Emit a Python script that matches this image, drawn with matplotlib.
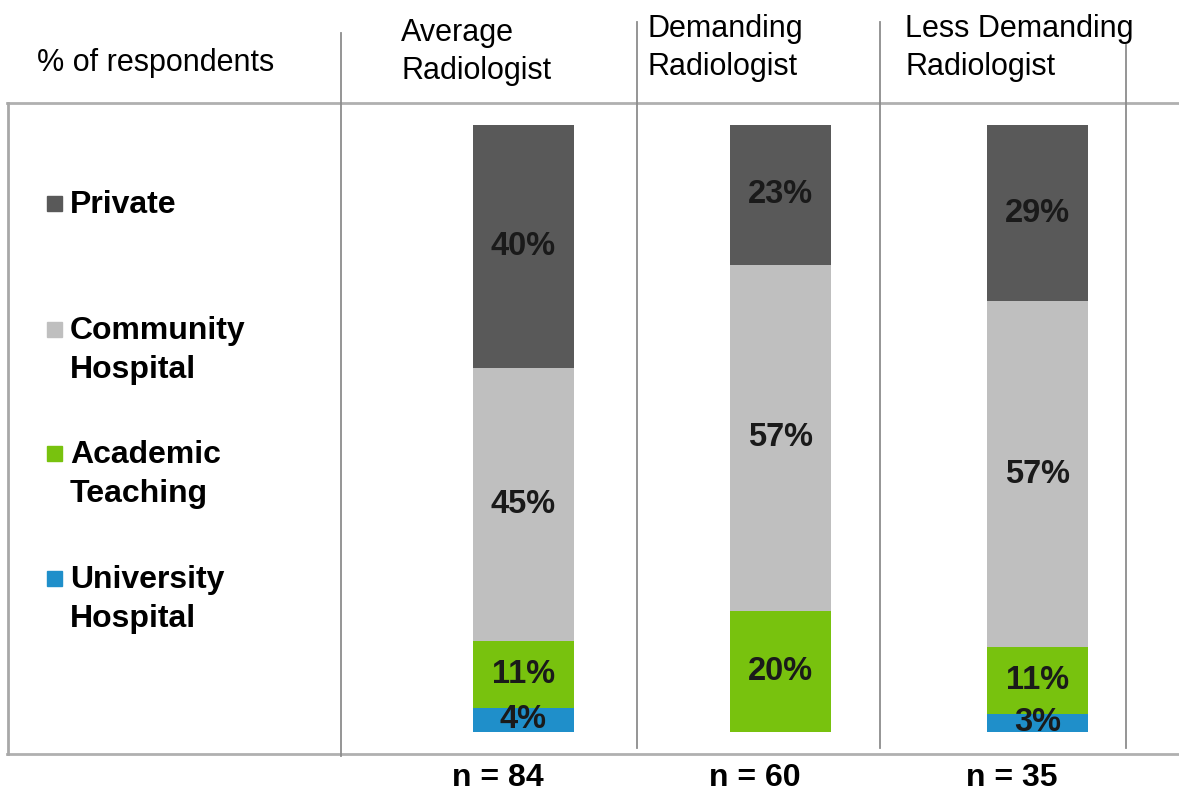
import matplotlib.pyplot as plt
from matplotlib.lines import Line2D
from matplotlib.patches import Rectangle

# data
groups = ['Average\nRadiologist', 'Demanding\nRadiologist', 'Less Demanding\nRadiologist']
n_resp = [84, 60, 35]
segments = ['University\nHospital', 'Academic\nTeaching', 'Community\nHospital', 'Private']
university = [4, 0, 3]
academic = [11, 20, 11]
community = [45, 57, 57]
private = [40, 23, 29]
colors = ['#1f8fca', '#78c20e', '#bfbfbf', '#595959']

W, H = 1179, 794
plt.rcParams['font.family'] = ['Liberation Sans', 'DejaVu Sans']
fig = plt.figure(figsize=(W / 100, H / 100), dpi=100)


def fx(px):
    return px / W


def fy(py):
    return 1 - py / H


# frame lines of the table
def hline(y, x0, x1, c='#b0b0b0', lw=2.0):
    fig.add_artist(Line2D([fx(x0), fx(x1)], [fy(y), fy(y)], color=c, lw=lw))


def vline(x, y0, y1, c='#8c8c8c', lw=1.3):
    fig.add_artist(Line2D([fx(x), fx(x)], [fy(y0), fy(y1)], color=c, lw=lw))


hline(103, 7, W)
hline(754, 7, W)
vline(8, 103, 754, c='#a8a8a8', lw=2.0)
vline(341, 33, 756)
vline(637, 22, 748)
vline(880, 22, 748)
vline(1126, 45, 748)

# bars
ax = fig.add_axes([fx(341), 62 / H, 785 / W, 607 / H])
ax.set_xlim(-0.71, 2.344)
ax.set_ylim(0, 100)
ax.axis('off')

x = range(len(groups))
series = [university, academic, community, private]
bottom = [0, 0, 0]
for vals, col in zip(series, colors):
    ax.bar(x, vals, bottom=bottom, width=0.393, color=col, edgecolor='none')
    for i, v in enumerate(vals):
        if v > 0:
            ax.text(i, bottom[i] + v / 2, f'{v}%', ha='center', va='center',
                    fontsize=23.5, fontweight='bold', color='#1a1a1a')
    bottom = [b + v for b, v in zip(bottom, vals)]

for i, n in enumerate(n_resp):
    ax.text(i - 0.1, -7.6, f'n = {n}', ha='center', va='center', fontsize=23,
            fontweight='bold', clip_on=False)

# headers
fig.text(fx(37), fy(63), '% of respondents', fontsize=22, ha='left', va='center')
for px, py, g in zip([401, 648, 905], [52, 48, 48], groups):
    fig.text(fx(px), fy(py), g, fontsize=22, ha='left', va='center', linespacing=1.32)

# legend
leg_y = [203, 329, 453, 578]
for yy, lab, col in zip(leg_y, segments[::-1], colors[::-1]):
    fig.add_artist(Rectangle((fx(47), fy(yy + 8)), 15 / W, 15 / H, color=col,
                             transform=fig.transFigure))
    fig.text(fx(70), fy(yy - 13), lab, fontsize=23, fontweight='bold', ha='left',
             va='top', linespacing=1.38)

fig.savefig('out.png', dpi=100)
